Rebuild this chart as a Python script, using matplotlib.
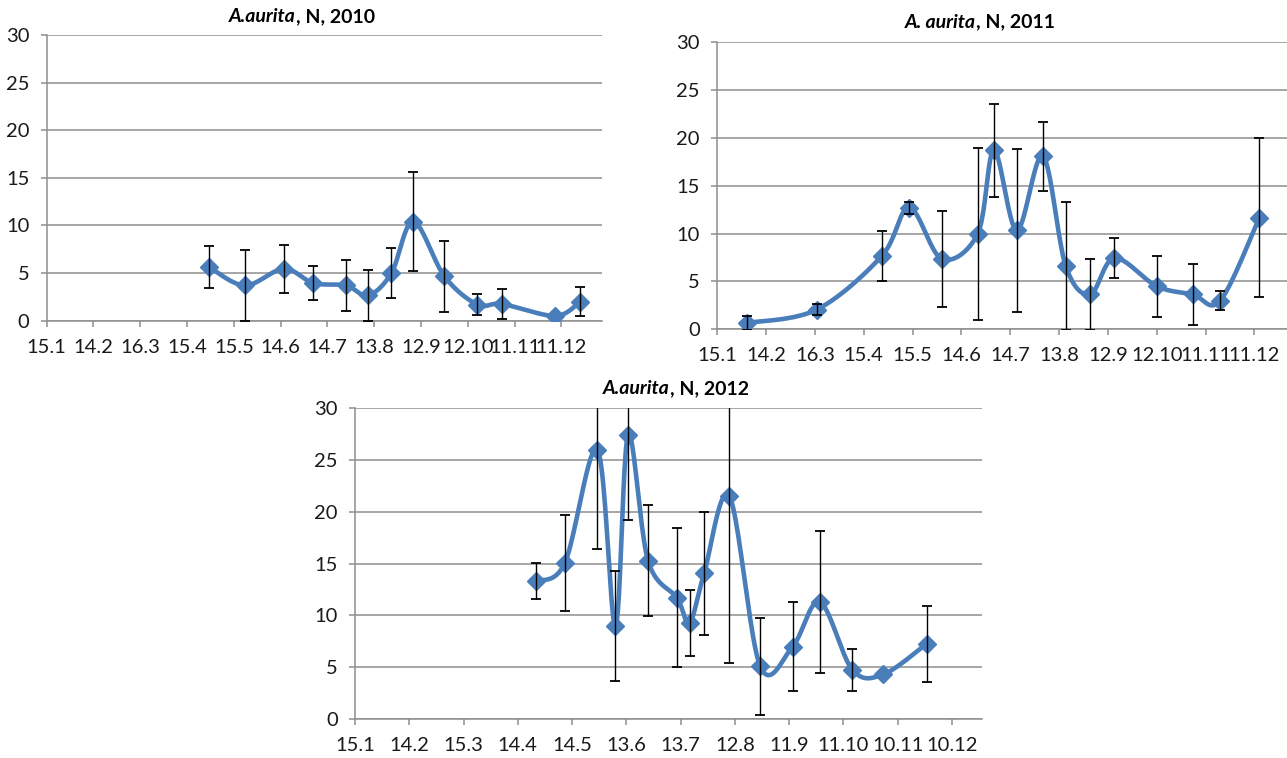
"""
A. aurita abundance (N) by sampling date, 2010-2012, three panels.
Date axis in days from 15 Jan, ticks every 30 days like the source chart.
"""
import matplotlib
matplotlib.use("Agg")
import matplotlib.pyplot as plt
import numpy as np
import pandas as pd

plt.rcParams["font.family"] = ["Lato", "DejaVu Sans"]

W, H = 1287, 758
LINE = "#4a7ebb"
GRID = "#8e8e8e"

TICKS_2010 = ["15.1", "14.2", "16.3", "15.4", "15.5", "14.6", "14.7", "13.8",
              "12.9", "12.10", "11.11", "11.12"]
TICKS_2011 = TICKS_2010
TICKS_2012 = ["15.1", "14.2", "15.3", "14.4", "14.5", "13.6", "13.7", "12.8",
              "11.9", "11.10", "10.11", "10.12"]

DATES_2010 = ["2010-04-29", "2010-05-22", "2010-06-16", "2010-07-05", "2010-07-26",
              "2010-08-09", "2010-08-24", "2010-09-07", "2010-09-27", "2010-10-18",
              "2010-11-03", "2010-12-07", "2010-12-23"]
N_2010 = [5.65, 3.7, 5.45, 3.95, 3.7, 2.65, 5.0, 10.4, 4.65, 1.7, 1.75, 0.5, 2.0]
ERR_2010 = [2.2, 3.7, 2.55, 1.75, 2.7, 2.7, 2.65, 5.2, 3.75, 1.1, 1.6, 0.0, 1.5]

DATES_2011 = ["2011-02-02", "2011-03-17", "2011-04-26", "2011-05-13", "2011-06-02",
              "2011-06-24", "2011-07-04", "2011-07-18", "2011-08-03", "2011-08-17",
              "2011-09-01", "2011-09-16", "2011-10-12", "2011-11-03", "2011-11-20",
              "2011-12-14"]
N_2011 = [0.66, 2.05, 7.65, 12.7, 7.35, 10.0, 18.7, 10.35, 18.1, 6.65, 3.65, 7.45,
          4.5, 3.65, 3.0, 11.65]
ERR_2011 = [0.7, 0.6, 2.6, 0.65, 5.0, 9.0, 4.85, 8.5, 3.6, 6.7, 3.7, 2.1, 3.2, 3.15,
            1.0, 8.3]

DATES_2012 = ["2012-04-24", "2012-05-10", "2012-05-28", "2012-06-07", "2012-06-14",
              "2012-06-25", "2012-07-11", "2012-07-18", "2012-07-26", "2012-08-09",
              "2012-08-26", "2012-09-13", "2012-09-28", "2012-10-16", "2012-11-02",
              "2012-11-26"]
N_2012 = [13.3, 15.05, 26.0, 9.0, 27.4, 15.3, 11.7, 9.3, 14.05, 21.5, 5.1, 7.0,
          11.3, 4.75, 4.3, 7.25]
ERR_2012 = [1.75, 4.6, 9.6, 5.3, 8.2, 5.35, 6.7, 3.2, 5.9, 16.1, 4.7, 4.25, 6.9,
            2.05, 0.0, 3.65]


def _px_axes(fig, left, top, right, bottom):
    return fig.add_axes([left / W, 1 - bottom / H, (right - left) / W, (bottom - top) / H])


def _smooth(ax, x, y, n=24):
    # Excel-style smoothed line: cubic Bezier with Catmull-Rom control points,
    # computed in screen space so the shape does not depend on axis units
    pts = ax.transData.transform(np.column_stack([x, y]))
    p = np.vstack([pts[0], pts, pts[-1]])
    t = np.linspace(0, 1, n)[:, None]
    segs = []
    for i in range(1, len(p) - 2):
        p0, p1, p2, p3 = p[i - 1], p[i], p[i + 1], p[i + 2]
        c1 = p1 + (p2 - p0) / 6
        c2 = p2 - (p3 - p1) / 6
        segs.append((1 - t) ** 3 * p1 + 3 * (1 - t) ** 2 * t * c1
                    + 3 * (1 - t) * t ** 2 * c2 + t ** 3 * p2)
    return ax.transData.inverted().transform(np.vstack(segs))


def _title(fig, xc, yc, italic, rest):
    t1 = fig.text(0, 1 - yc / H, italic, fontsize=14, fontweight="bold",
                  fontstyle="italic", ha="left", va="center")
    t2 = fig.text(0, 1 - yc / H, rest, fontsize=14, fontweight="bold",
                  ha="left", va="center")
    r = fig.canvas.get_renderer()
    w1 = t1.get_window_extent(r).width
    w2 = t2.get_window_extent(r).width
    x0 = xc - (w1 + w2) / 2
    t1.set_x(x0 / W)
    t2.set_x((x0 + w1) / W)


def _panel(fig, box, dates, n, err, ticks, xmax, year):
    ax = _px_axes(fig, *box)
    d = pd.to_datetime(dates)
    x = (d - pd.Timestamp(f"{year}-01-15")).days.to_numpy()
    n = np.asarray(n)
    err = np.asarray(err)

    ax.set_xlim(0, xmax)
    ax.set_ylim(0, 30)
    ax.set_xticks(np.arange(len(ticks)) * 30)
    ax.set_xticklabels(ticks)
    ax.set_yticks(np.arange(0, 31, 5))

    for s in ("top", "right"):
        ax.spines[s].set_visible(False)
    for s in ("left", "bottom"):
        ax.spines[s].set_color(GRID)
        ax.spines[s].set_linewidth(1.1)
    ax.grid(axis="y", color=GRID, linewidth=1.1)
    ax.set_axisbelow(True)
    ax.tick_params(axis="y", length=4.5, width=1.1, color=GRID, pad=8,
                   labelsize=14.5, labelcolor="#1a1a1a")
    ax.tick_params(axis="x", length=4, width=1.1, color=GRID, pad=9,
                   labelsize=14.5, labelcolor="#1a1a1a")

    curve = _smooth(ax, x, n)
    ax.plot(curve[:, 0], curve[:, 1], color=LINE, linewidth=3.3,
            solid_capstyle="round", zorder=3)
    ax.plot(x, n, linestyle="none", marker="D", markersize=9.5, color=LINE, zorder=4)
    has_err = err > 0
    ax.errorbar(x[has_err], n[has_err], yerr=err[has_err], fmt="none",
                ecolor="black", elinewidth=1.0, capsize=3.5, capthick=1.3, zorder=5)
    return ax


def main():
    fig = plt.figure(figsize=(W / 100, H / 100), dpi=100)

    _panel(fig, (46.7, 35, 601.7, 320.7), DATES_2010, N_2010, ERR_2010,
           TICKS_2010, 355.8, 2010)
    _panel(fig, (717.3, 42.3, 1287, 329.3), DATES_2011, N_2011, ERR_2011,
           TICKS_2011, 350, 2011)
    _panel(fig, (355, 408.3, 981.7, 719), DATES_2012, N_2012, ERR_2012,
           TICKS_2012, 346.5, 2012)

    _title(fig, 302, 17, "A.aurita", ", N, 2010")
    _title(fig, 980, 22, "A. aurita", ", N, 2011")
    _title(fig, 676, 389, "A.aurita", ", N, 2012")

    fig.savefig("out.png", dpi=100)


if __name__ == "__main__":
    main()
